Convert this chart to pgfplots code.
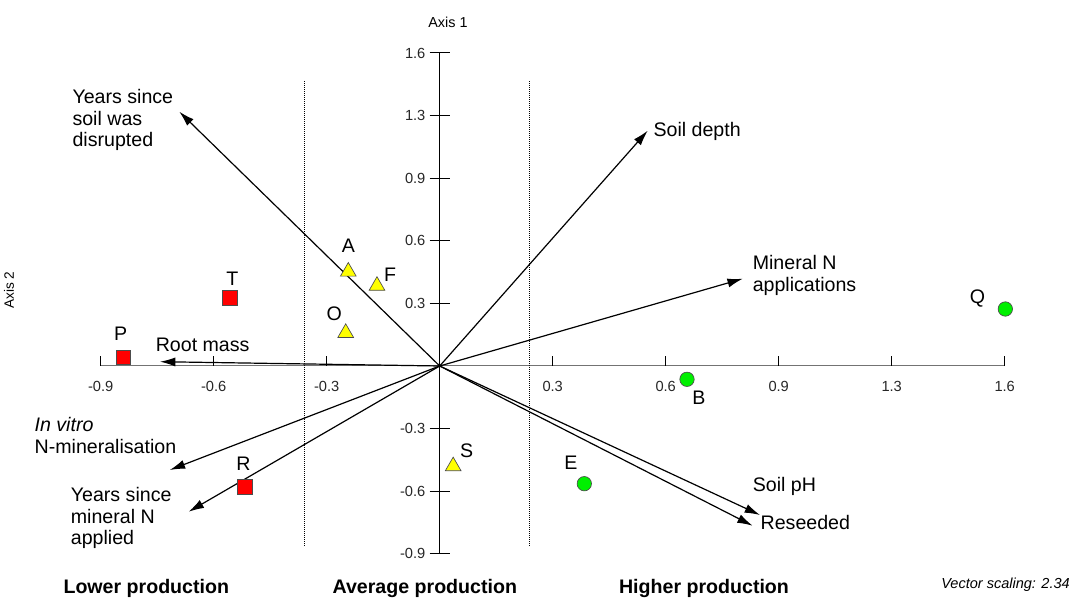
\documentclass[border=0pt]{standalone}
\usepackage{fontspec}
\setmainfont{Liberation Sans}
\usepackage{pgfplots}
\pgfplotsset{compat=1.18}
\usetikzlibrary{arrows.meta}
\definecolor{mkred}{RGB}{255,0,0}
\definecolor{mkyel}{RGB}{255,255,0}
\definecolor{mkgrn}{RGB}{0,240,0}
\newcommand\lab{\fontsize{14.7}{16.3}\selectfont}
\tikzset{
  arr/.style={black, line width=0.9pt, -{Latex[length=11.5pt,width=6.8pt]}},
  lbl/.style={inner sep=0pt, font=\lab},
  xt/.style={black, line width=0.75pt},
}
\begin{document}
\begin{tikzpicture}
\begin{axis}[
  scale only axis, width=678pt, height=375.6pt,
  xmin=-0.945, xmax=1.575, ymin=-0.945, ymax=1.575,
  axis lines=middle,
  axis line style={-, line width=0.75pt},
  x axis line style={draw=black!55},
  y axis line style={draw=black},
  clip=false,
  xtick={-0.945,-0.63,-0.315,0.315,0.63,0.945,1.26,1.575},
  xticklabels={-0.9,-0.6,-0.3,0.3,0.6,0.9,1.3,1.6},
  ytick={-0.945,-0.63,-0.315,0.315,0.63,0.945,1.26,1.575},
  yticklabels={-0.9,-0.6,-0.3,0.3,0.6,0.9,1.3,1.6},
  major tick length=0pt,
  xtick style={draw=none},
  ytick style={draw=none},
  /pgf/number format/assume math mode=true,
  ticklabel style={font=\fontsize{11}{13}\selectfont, text=black!85},
  xticklabel style={yshift=-7.75pt},
  yticklabel style={xshift=-7.2pt},
]
% bounding box of the whole picture
\path (axis cs:-1.2257,1.8417) rectangle (axis cs:1.7682,-1.1725);

% x ticks (upward only)
\draw[xt] (axis cs:-0.945,0) -- ++(0pt,7.5pt);
\draw[xt] (axis cs:-0.63,0) -- ++(0pt,7.5pt);
\draw[xt] (axis cs:-0.315,0) -- ++(0pt,7.5pt);
\draw[xt] (axis cs:0.315,0) -- ++(0pt,7.5pt);
\draw[xt] (axis cs:0.63,0) -- ++(0pt,7.5pt);
\draw[xt] (axis cs:0.945,0) -- ++(0pt,7.5pt);
\draw[xt] (axis cs:1.26,0) -- ++(0pt,7.5pt);
\draw[xt] (axis cs:1.575,0) -- ++(0pt,7.5pt);
% y ticks (both sides)
\draw[xt] (axis cs:0,-0.945) ++(-7.5pt,0pt) -- ++(15pt,0pt);
\draw[xt] (axis cs:0,-0.63) ++(-7.5pt,0pt) -- ++(15pt,0pt);
\draw[xt] (axis cs:0,-0.315) ++(-7.5pt,0pt) -- ++(15pt,0pt);
\draw[xt] (axis cs:0,0.315) ++(-7.5pt,0pt) -- ++(15pt,0pt);
\draw[xt] (axis cs:0,0.63) ++(-7.5pt,0pt) -- ++(15pt,0pt);
\draw[xt] (axis cs:0,0.945) ++(-7.5pt,0pt) -- ++(15pt,0pt);
\draw[xt] (axis cs:0,1.26) ++(-7.5pt,0pt) -- ++(15pt,0pt);
\draw[xt] (axis cs:0,1.575) ++(-7.5pt,0pt) -- ++(15pt,0pt);

% dotted production boundaries
\addplot[black, line width=0.75pt, dash pattern=on 0.75pt off 0.75pt] coordinates {(-0.3755,1.434) (-0.3755,-0.9108)};
\addplot[black, line width=0.75pt, dash pattern=on 0.75pt off 0.75pt] coordinates {(0.2517,1.434) (0.2517,-0.9108)};

% sites: lower production (red squares)
\addplot[only marks, mark=square*, mark size=5.4pt, mark options={fill=mkred, draw=black!70, line width=0.5pt}] coordinates {
  (-0.5854,0.3437) (-0.8820,0.0438) (-0.5433,-0.6074)};
% average production (yellow triangles)
\addplot[only marks, mark=triangle*, mark size=6.8pt, mark options={fill=mkyel, draw=black!70, line width=0.5pt}] coordinates {
  (-0.2548,0.4750) (-0.1748,0.4036) (-0.2620,0.1666) (0.0376,-0.5042)};
% higher production (green circles)
\addplot[only marks, mark=*, mark size=5.4pt, mark options={fill=mkgrn, draw=black!70, line width=0.5pt}] coordinates {
  (0.6894,-0.0669) (0.4031,-0.5923) (1.5767,0.2868)};

% vectors
\addplot[arr] coordinates {(0,0) (-0.7259,1.2797)};
\addplot[arr] coordinates {(0,0) (0.5798,1.1840)};
\addplot[arr] coordinates {(0,0) (0.8449,0.4393)};
\addplot[arr] coordinates {(0,0) (-0.7797,0.0216)};
\addplot[arr] coordinates {(0,0) (-0.7524,-0.5233)};
\addplot[arr] coordinates {(0,0) (-0.6997,-0.7332)};
\addplot[arr] coordinates {(0,0) (0.8929,-0.7498)};
\addplot[arr] coordinates {(0,0) (0.8722,-0.8036)};

% vector labels
\node[lbl, anchor=west, align=left] at (axis cs:-1.0242,1.2379) {Years since\\soil was\\disrupted};
\node[lbl, anchor=west] at (axis cs:0.5954,1.1825) {Soil depth};
\node[lbl, anchor=west, align=left] at (axis cs:0.8720,0.4564) {Mineral N\\applications};
\node[lbl, anchor=center] at (axis cs:-0.6607,0.1057) {Root mass};
\node[lbl, anchor=west, align=left] at (axis cs:-1.1298,-0.3512) {\textit{In vitro}\\N-mineralisation};
\node[lbl, anchor=west, align=left] at (axis cs:-1.0289,-0.7649) {Years since\\mineral N\\applied};
\node[lbl, anchor=west] at (axis cs:0.8722,-0.6074) {Soil pH};
\node[lbl, anchor=west] at (axis cs:0.8940,-0.7885) {Reseeded};

% site labels
\node[lbl] at (axis cs:-0.2548,0.6053) {A};
\node[lbl] at (axis cs:-0.1385,0.4614) {F};
\node[lbl] at (axis cs:-0.2938,0.2652) {O};
\node[lbl] at (axis cs:-0.5781,0.4413) {T};
\node[lbl] at (axis cs:-0.8892,0.1645) {P};
\node[lbl] at (axis cs:-0.5469,-0.4896) {R};
\node[lbl] at (axis cs:0.0750,-0.4277) {S};
\node[lbl] at (axis cs:1.4994,0.3371) {Q};
\node[lbl] at (axis cs:0.7228,-0.1610) {B};
\node[lbl] at (axis cs:0.3655,-0.4881) {E};

% axis titles
\node[inner sep=0pt, font=\fontsize{10.8}{12}\selectfont] at (axis cs:0.0231,1.7310) {Axis 1};
\node[inner sep=0pt, font=\fontsize{10.2}{12}\selectfont, rotate=90] at (axis cs:-1.2006,0.3824) {Axis 2};

% production groups
\node[inner sep=0pt, font=\lab\bfseries] at (axis cs:-0.8179,-1.1186) {Lower production};
\node[inner sep=0pt, font=\lab\bfseries] at (axis cs:-0.0415,-1.1186) {Average production};
\node[inner sep=0pt, font=\lab\bfseries] at (axis cs:0.7368,-1.1171) {Higher production};
\node[inner sep=0pt, anchor=east, font=\fontsize{10.9}{12}\selectfont\itshape] at (axis cs:1.7570,-1.1020) {Vector scaling: 2.34};
\end{axis}
\end{tikzpicture}
\end{document}
